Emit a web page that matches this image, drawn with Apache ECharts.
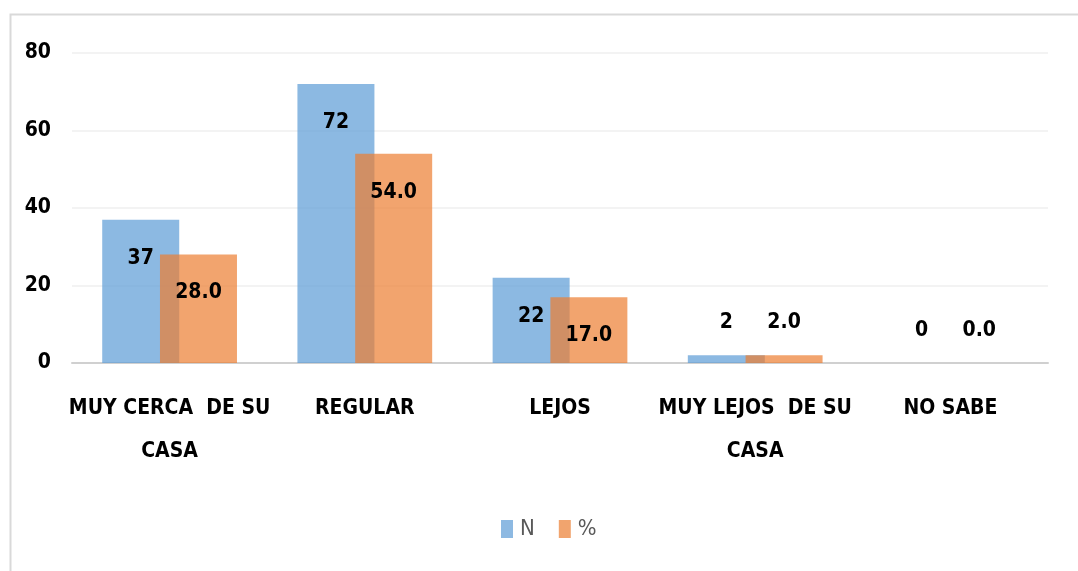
<!DOCTYPE html>
<html>
<head>
<meta charset="utf-8">
<title>Distancia</title>
<script src="https://cdn.jsdelivr.net/npm/echarts@6/dist/echarts.min.js"></script>
<style>
    html, body { margin: 0; padding: 0; background: #fff; }
    #chart { width: 1078px; height: 571px; }
</style>
</head>
<body>
<div id="chart"></div>
<script>
// datos del grafico
var categorias = ['MUY CERCA  DE SU\nCASA', 'REGULAR', 'LEJOS', 'MUY LEJOS  DE SU\nCASA', 'NO SABE'];
var valoresN = [37, 72, 22, 2, 0];
var valoresPct = [28.0, 54.0, 17.0, 2.0, 0.0];
var ticksY = [0, 20, 40, 60, 80];

var fuente = '"Liberation Sans Narrow", "DejaVu Sans Condensed", "Roboto", sans-serif';

// etiqueta dentro de la barra si es alta, arriba si es baja
function armarDatos(valores, decimales) {
    var datos = [];
    for (var i = 0; i < valores.length; i++) {
        var alto = valores[i] >= 10;
        datos.push({
            value: valores[i],
            label: {
                position: alto ? 'insideTop' : 'top',
                distance: alto ? 28 : 22,
                formatter: valores[i].toFixed(decimales)
            }
        });
    }
    return datos;
}

var etiqueta = {
    show: true,
    color: '#000',
    fontFamily: fuente,
    fontWeight: 'bold',
    fontSize: 21
};

var option = {
    animation: false,
    backgroundColor: '#fff',
    textStyle: { fontFamily: fuente },
    graphic: [{
        type: 'rect',
        left: 8,
        top: 12,
        shape: { width: 1100, height: 600 },
        style: { fill: 'none', stroke: '#D9D9D9', lineWidth: 2 },
        silent: true
    }],
    grid: {
        left: 72,
        right: 30,
        top: 53,
        bottom: 208
    },
    legend: {
        top: 513,
        left: 496,
        itemWidth: 12,
        itemHeight: 18,
        itemGap: 24,
        icon: 'rect',
        textStyle: { color: '#595959', fontSize: 22, fontFamily: fuente, padding: [0, 0, 0, 2] },
        data: [
            { name: 'N', itemStyle: { color: '#8DB9E2' } },
            { name: '%', itemStyle: { color: '#F1A46E' } }
        ]
    },
    xAxis: {
        type: 'category',
        data: categorias,
        axisLine: { lineStyle: { color: '#D0D0D0', width: 2 } },
        axisTick: { show: false },
        axisLabel: {
            color: '#000',
            fontFamily: fuente,
            fontWeight: 'bold',
            fontSize: 21,
            lineHeight: 43,
            margin: 24,
            interval: 0
        }
    },
    yAxis: {
        type: 'value',
        min: ticksY[0],
        max: ticksY[ticksY.length - 1],
        interval: ticksY[1] - ticksY[0],
        axisLine: { show: false },
        axisTick: { show: false },
        splitLine: { lineStyle: { color: '#EFEFEF', width: 1.5 } },
        axisLabel: {
            color: '#000',
            fontFamily: fuente,
            fontWeight: 'bold',
            fontSize: 21,
            margin: 21
        }
    },
    series: [
        {
            name: 'N',
            type: 'bar',
            barWidth: 77,
            barGap: '-25%',
            itemStyle: { color: 'rgba(91,155,213,0.7)' },
            label: etiqueta,
            data: armarDatos(valoresN, 0)
        },
        {
            name: '%',
            type: 'bar',
            barWidth: 77,
            barGap: '-25%',
            itemStyle: { color: 'rgba(237,125,49,0.7)' },
            label: etiqueta,
            data: armarDatos(valoresPct, 1)
        }
    ]
};

var grafico = echarts.init(document.getElementById('chart'));
grafico.setOption(option);
</script>
</body>
</html>
